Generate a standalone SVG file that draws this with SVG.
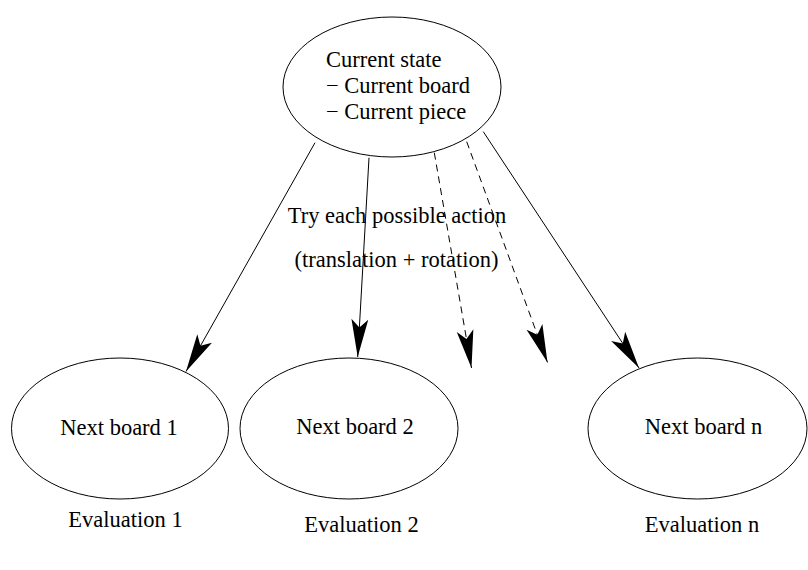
<svg xmlns="http://www.w3.org/2000/svg" width="808" height="570" viewBox="0 0 808 570">
<style>
.n{fill:none;stroke:#000;stroke-width:1}
.t{font-family:"Liberation Serif","Times New Roman",serif;font-size:22.5px;fill:#000}
.c{text-anchor:middle}
.e{fill:none;stroke:#000;stroke-width:1}
.d{stroke-dasharray:7 5}
</style>
<defs>
<marker id="ah" markerUnits="userSpaceOnUse" markerWidth="40" markerHeight="20" viewBox="-37 -9 38 18" refX="0" refY="0" orient="auto" overflow="visible">
<path d="M0,0 L-36,-8 L-28,0 L-36,8 Z" fill="#000" stroke="none"/>
</marker>
</defs>
<rect width="808" height="570" fill="#fff"/>
<g id="connectors">
<line class="e" x1="315" y1="142.7" x2="186" y2="371.5" marker-end="url(#ah)"/>
<line class="e" x1="369" y1="157.7" x2="357.7" y2="357" marker-end="url(#ah)"/>
<line class="e d" x1="434.3" y1="152.7" x2="471.5" y2="368" marker-end="url(#ah)"/>
<line class="e d" x1="466.7" y1="141.7" x2="547.5" y2="362.5" marker-end="url(#ah)"/>
<line class="e" x1="483.3" y1="131.7" x2="639" y2="368" marker-end="url(#ah)"/>
</g>
<g id="current">
<ellipse class="n" cx="392" cy="87" rx="109" ry="70"/>
<text class="t" x="326" y="66.7">Current state</text>
<text class="t" x="326" y="92.7">− Current board</text>
<text class="t" x="326" y="119">− Current piece</text>
</g>
<g id="action-label">
<text class="t c" x="397" y="222.7">Try each possible action</text>
<text class="t c" x="396.5" y="266.7">(translation + rotation)</text>
</g>
<g id="next1">
<ellipse class="n" cx="120" cy="428.5" rx="108.5" ry="70.5"/>
<text class="t c" x="119" y="435">Next board 1</text>
<text class="t c" x="125.5" y="527">Evaluation 1</text>
</g>
<g id="next2">
<ellipse class="n" cx="349" cy="428.5" rx="109" ry="70.5"/>
<text class="t c" x="355" y="434">Next board 2</text>
<text class="t c" x="361.5" y="532">Evaluation 2</text>
</g>
<g id="nextn">
<ellipse class="n" cx="697.5" cy="428.5" rx="109.5" ry="70.5"/>
<text class="t c" x="703.5" y="434">Next board n</text>
<text class="t c" x="702" y="532">Evaluation n</text>
</g>
</svg>
